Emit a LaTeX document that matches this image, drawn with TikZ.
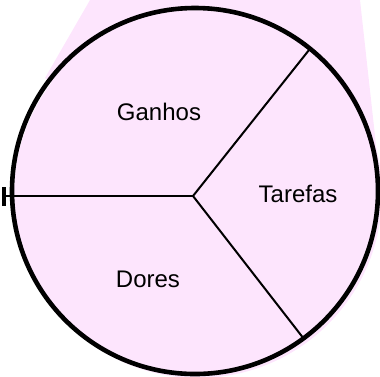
\documentclass[tikz,border=0pt]{standalone}
\usepackage{fontspec}
\setmainfont{Liberation Sans}
\usetikzlibrary{arrows.meta}
\definecolor{pinkfill}{RGB}{253,229,253}
\tikzset{
  ring/.style={draw=black, line width=4.6pt},
  divider/.style={draw=black, line width=2pt},
  lbl/.style={font=\fontsize{24}{28}\selectfont, inner sep=0pt, anchor=base}
}
\begin{document}
\begin{tikzpicture}[x=1pt,y=-1pt]
\useasboundingbox (0,0) rectangle (380,376);
% pink background beam and disc
\fill[pinkfill] (90,0) -- (360,0) -- (381,190) -- (195,191) -- (45,78) -- cycle;
\fill[pinkfill] (198,194) circle[radius=184];
% ring
\draw[ring] (195,191) circle[radius=183];
% dividers
\coordinate (hub) at (193,196);
\coordinate (top) at (309,50);
\coordinate (bot) at (304,339);
\coordinate (left) at (2,196);
\draw[divider] (hub) -- (top);
\draw[divider] (hub) -- (bot);
\draw[divider, -{Bar[width=19pt,line width=3.5pt]}] (hub) -- (left);
% labels
\node[lbl] (ganhos) at (159,120) {Ganhos};
\node[lbl] (tarefas) at (298,202) {Tarefas};
\node[lbl] (dores) at (148,287) {Dores};
\end{tikzpicture}
\end{document}
